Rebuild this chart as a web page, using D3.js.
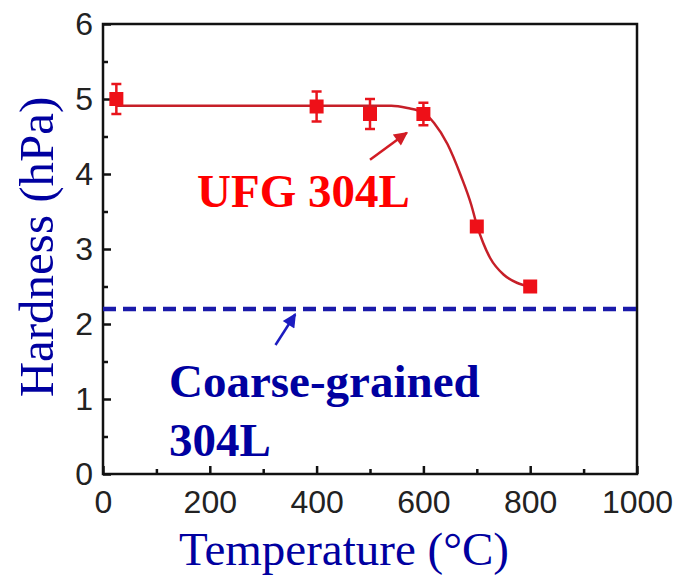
<!DOCTYPE html>
<html>
<head>
<meta charset="utf-8">
<script src="https://cdn.jsdelivr.net/npm/d3@7"></script>
<style>
  body { margin: 0; background: #fff; }
  svg { display: block; }
</style>
</head>
<body>
<svg id="chart"></svg>
<script>
// measured points (temperature in C, hardness)
const temps = [25, 400, 500, 600, 700, 800];
const hardness = [5.0, 4.9, 4.8, 4.8, 3.3, 2.5];
const errors = [0.2, 0.2, 0.2, 0.15, 0, 0];

// fitted curve
const fitTemps = [25, 200, 400, 500, 540, 570, 600, 620, 645, 670, 690, 700, 712, 725, 750, 775, 800];
const fitHardness = [4.91, 4.91, 4.91, 4.91, 4.91, 4.88, 4.82, 4.68, 4.40, 3.98, 3.58, 3.32, 3.08, 2.88, 2.66, 2.55, 2.50];

// coarse-grained reference level
const coarseLevel = 2.2;
const coarseRange = [0, 1005];

const xTicks = [0, 200, 400, 600, 800, 1000];
const xMinor = [100, 300, 500, 700, 900];
const yTicks = [0, 1, 2, 3, 4, 5, 6];
const yMinor = [0.5, 1.5, 2.5, 3.5, 4.5, 5.5];

const W = 680, H = 576;
const margin = {top: 24, right: 43, bottom: 102, left: 103};
const iw = W - margin.left - margin.right;
const ih = H - margin.top - margin.bottom;

const svg = d3.select('#chart').attr('width', W).attr('height', H);
const g = svg.append('g').attr('transform', `translate(${margin.left},${margin.top})`);

const x = d3.scaleLinear().domain([0, 1000]).range([0, iw]);
const y = d3.scaleLinear().domain([0, 6]).range([ih, 0]);

// axes with inward ticks
g.append('g').attr('transform', `translate(0,${ih})`)
  .call(d3.axisBottom(x).tickValues(xTicks).tickFormat(d3.format('d'))
    .tickSize(-8).tickPadding(16).tickSizeOuter(0));
g.append('g').attr('transform', `translate(0,${ih})`)
  .call(d3.axisBottom(x).tickValues(xMinor).tickSize(-5).tickFormat('').tickSizeOuter(0))
  .select('.domain').remove();

g.append('g')
  .call(d3.axisLeft(y).tickValues(yTicks).tickFormat(d3.format('d'))
    .tickSize(-8).tickPadding(10).tickSizeOuter(0));
g.append('g')
  .call(d3.axisLeft(y).tickValues(yMinor).tickSize(-5).tickFormat('').tickSizeOuter(0))
  .select('.domain').remove();

g.selectAll('.tick line').attr('stroke', '#111').attr('stroke-width', 2.5);
g.selectAll('.domain').attr('stroke', 'none');
g.selectAll('.tick text')
  .attr('font-family', '"Liberation Sans", Arial, sans-serif')
  .attr('font-size', 32)
  .attr('fill', '#222');

// frame
g.append('rect')
  .attr('x', 0).attr('y', 0).attr('width', iw).attr('height', ih)
  .attr('fill', 'none').attr('stroke', '#111').attr('stroke-width', 2.5);

// coarse-grained dashed line
g.append('line')
  .attr('x1', x(coarseRange[0])).attr('x2', x(coarseRange[1]))
  .attr('y1', y(coarseLevel)).attr('y2', y(coarseLevel))
  .attr('stroke', '#1a1aaa').attr('stroke-width', 4.5)
  .attr('stroke-dasharray', '13,7');

// fitted curve
const fit = fitTemps.map((t, i) => [t, fitHardness[i]]);
g.append('path')
  .datum(fit)
  .attr('fill', 'none')
  .attr('stroke', '#c61f28')
  .attr('stroke-width', 2.5)
  .attr('d', d3.line().x(d => x(d[0])).y(d => y(d[1])).curve(d3.curveMonotoneX));

// error bars
const pts = temps.map((t, i) => ({t: t, h: hardness[i], e: errors[i]}));
const eb = g.append('g').attr('stroke', '#e8141c').attr('stroke-width', 2.5);
pts.filter(d => d.e > 0).forEach(d => {
  eb.append('line').attr('x1', x(d.t)).attr('x2', x(d.t))
    .attr('y1', y(d.h + d.e)).attr('y2', y(d.h - d.e));
  [d.h + d.e, d.h - d.e].forEach(v => {
    eb.append('line').attr('x1', x(d.t) - 5).attr('x2', x(d.t) + 5)
      .attr('y1', y(v)).attr('y2', y(v));
  });
});

// square markers
g.selectAll('rect.pt')
  .data(pts)
  .join('rect')
  .attr('class', 'pt')
  .attr('x', d => x(d.t) - 7)
  .attr('y', d => y(d.h) - 7)
  .attr('width', 14).attr('height', 14)
  .attr('fill', '#ee1018');

// arrows
const defs = svg.append('defs');
function marker(id, color) {
  defs.append('marker')
    .attr('id', id).attr('viewBox', '0 0 10 10')
    .attr('refX', 9).attr('refY', 5)
    .attr('markerWidth', 6.5).attr('markerHeight', 5.5)
    .attr('markerUnits', 'strokeWidth')
    .attr('orient', 'auto')
    .append('path').attr('d', 'M0,0L10,5L0,10Z').attr('fill', color);
}
marker('headRed', '#d21c24');
marker('headBlue', '#1c1cc0');

g.append('line')
  .attr('x1', x(500)).attr('y1', y(4.19))
  .attr('x2', x(569)).attr('y2', y(4.55))
  .attr('stroke', '#d21c24').attr('stroke-width', 2.5)
  .attr('marker-end', 'url(#headRed)');

g.append('line')
  .attr('x1', x(323)).attr('y1', y(1.72))
  .attr('x2', x(360)).attr('y2', y(2.13))
  .attr('stroke', '#1c1cc0').attr('stroke-width', 2.5)
  .attr('marker-end', 'url(#headBlue)');

// annotation labels
const serif = '"Liberation Serif", "Times New Roman", serif';
svg.append('text')
  .attr('x', 197).attr('y', 207)
  .attr('font-family', serif).attr('font-weight', 'bold').attr('font-size', 47)
  .attr('fill', '#ff0000')
  .text('UFG 304L');

svg.append('text')
  .attr('x', 169).attr('y', 397)
  .attr('font-family', serif).attr('font-weight', 'bold').attr('font-size', 47)
  .attr('fill', '#0000a0')
  .text('Coarse-grained');
svg.append('text')
  .attr('x', 169).attr('y', 456)
  .attr('font-family', serif).attr('font-weight', 'bold').attr('font-size', 47)
  .attr('fill', '#0000a0')
  .text('304L');

// axis titles
svg.append('text')
  .attr('transform', `translate(53,${margin.top + ih / 2 - 2}) rotate(-90)`)
  .attr('text-anchor', 'middle')
  .attr('font-family', serif).attr('font-size', 49)
  .attr('fill', '#0000a0')
  .text('Hardness (hPa)');

svg.append('text')
  .attr('x', 344).attr('y', 565)
  .attr('text-anchor', 'middle')
  .attr('font-family', serif).attr('font-size', 47)
  .attr('fill', '#0000a0')
  .text('Temperature (°C)');
</script>
</body>
</html>
